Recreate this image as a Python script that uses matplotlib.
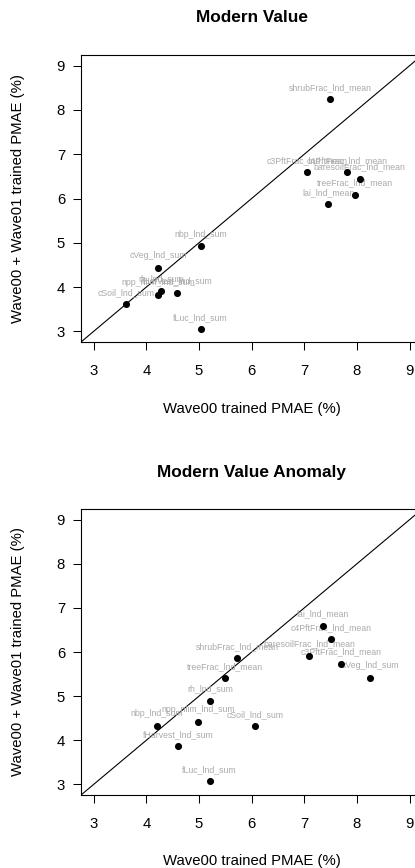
import matplotlib
matplotlib.use("Agg")
import matplotlib.pyplot as plt

plt.rcParams["font.family"] = ["Liberation Sans", "DejaVu Sans"]

# Modern Value
mv_labels = ["shrubFrac_lnd_mean", "c3PftFrac_lnd_mean", "c4PftFrac_lnd_mean",
             "baresoilFrac_lnd_mean", "treeFrac_lnd_mean", "lai_lnd_mean",
             "nbp_lnd_sum", "cVeg_lnd_sum", "cSoil_lnd_sum", "npp_nlim_lnd_sum",
             "rh_lnd_sum", "fHarvest_lnd_sum", "fLuc_lnd_sum"]
mv_x = [7.49, 7.05, 7.81, 8.05, 7.96, 7.45, 5.03, 4.22, 3.61, 4.22, 4.28, 4.59, 5.03]
mv_y = [8.24, 6.59, 6.59, 6.45, 6.09, 5.87, 4.92, 4.44, 3.61, 3.83, 3.91, 3.87, 3.05]

# Modern Value Anomaly
mva_labels = ["lai_lnd_mean", "c4PftFrac_lnd_mean", "baresoilFrac_lnd_mean",
              "c3PftFrac_lnd_mean", "cVeg_lnd_sum", "shrubFrac_lnd_mean",
              "treeFrac_lnd_mean", "rh_lnd_sum", "npp_nlim_lnd_sum", "cSoil_lnd_sum",
              "nbp_lnd_sum", "fHarvest_lnd_sum", "fLuc_lnd_sum"]
mva_x = [7.35, 7.50, 7.09, 7.70, 8.25, 5.73, 5.49, 5.21, 4.99, 6.06, 4.20, 4.61, 5.20]
mva_y = [6.59, 6.29, 5.91, 5.73, 5.42, 5.86, 5.40, 4.89, 4.42, 4.32, 4.33, 3.86, 3.07]

ticks = [3, 4, 5, 6, 7, 8, 9]
LIM = (2.76, 9.24)
W, H = 415, 868

fig = plt.figure(figsize=(W / 100, H / 100), dpi=100, facecolor="white")

panels = [
    ("Modern Value", mv_labels, mv_x, mv_y, 55, 342),
    ("Modern Value Anomaly", mva_labels, mva_x, mva_y, 509, 795),
]

for title, labs, xs, ys, top, bot in panels:
    left, width = 81, 341.3  # box runs past the right edge, as in the reference crop
    ax = fig.add_axes([left / W, 1 - bot / H, width / W, (bot - top) / H])
    ax.set_xlim(LIM)
    ax.set_ylim(LIM)
    ax.plot(LIM, LIM, color="black", lw=0.8, zorder=1)
    ax.scatter(xs, ys, s=26, color="black", zorder=3, linewidths=0)
    for lab, x, y in zip(labs, xs, ys):
        ax.annotate(lab, (x, y), xytext=(0, 8.6), textcoords="offset points",
                    ha="center", va="center", fontsize=6.3, color="#aaaaaa", zorder=2)
    ax.set_xticks(ticks)
    ax.set_yticks(ticks)
    ax.tick_params(direction="out", length=6, width=0.75, labelsize=10.7, color="black")
    ax.tick_params(axis="x", pad=9.5)
    ax.tick_params(axis="y", pad=5.5)
    for s in ax.spines.values():
        s.set_linewidth(0.8)
        s.set_color("black")
    ax.set_xlabel("Wave00 trained PMAE (%)", fontsize=10.7, va="center")
    ax.xaxis.set_label_coords(0.5, -66.5 / (bot - top))
    ax.set_ylabel("Wave00 + Wave01 trained PMAE (%)", fontsize=10.7, va="center")
    ax.yaxis.set_label_coords((18 - left) / width, 0.5)
    fig.text((left + width / 2) / W, 1 - (top - 37) / H, title, ha="center", va="center",
             fontsize=12.4, fontweight="bold")

fig.savefig("out.png", dpi=100, facecolor="white")
